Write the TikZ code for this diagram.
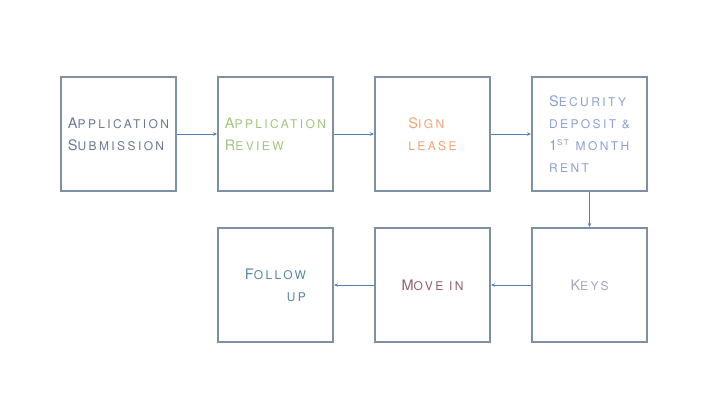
\documentclass[tikz,border=0pt]{standalone}
\usepackage{fontspec}
\setmainfont[LetterSpace=20]{TeX Gyre Heros}
\usetikzlibrary{positioning, arrows.meta}
\definecolor{frame}{RGB}{127,143,166}
\definecolor{flow}{RGB}{80,130,190}
\definecolor{subtxt}{RGB}{108,120,146}
\definecolor{revtxt}{RGB}{160,196,128}
\definecolor{signtxt}{RGB}{240,165,115}
\definecolor{sectxt}{RGB}{140,160,210}
\definecolor{keytxt}{RGB}{165,165,196}
\definecolor{movetxt}{RGB}{140,95,110}
\definecolor{fuptxt}{RGB}{84,136,156}
% small capitals, drawn as smaller upper case
\newcommand\lc[1]{{\fontsize{12}{22}\selectfont\MakeUppercase{#1}}}
\newcommand\supst{\raisebox{5pt}{\fontsize{8}{8}\selectfont ST}}
\tikzset{
  every node/.style={font=\fontsize{14.5}{22}\selectfont},
  stage/.style={draw=frame, line width=2pt, minimum width=115pt, minimum height=114pt, align=left, inner sep=0pt},
  link/.style={draw=flow, line width=0.7pt, -{Stealth[length=4pt, width=3.5pt]}},
}
\begin{document}
\begin{tikzpicture}[x=1pt, y=-1pt, node distance=40pt]
  \useasboundingbox (0,0) rectangle (720,405);
  % ---- top row ----------------------------------------------------------
  \node[stage, text=subtxt] (sub) at (118.5,134) {A\lc{pplication}\\S\lc{ubmission}};
  \node[stage, text=revtxt, right=of sub] (rev) {A\lc{pplication}\\R\lc{eview}};
  \node[stage, text=signtxt, right=of rev] (sign) {S\lc{ign}\\\lc{lease}};
  \node[stage, text=sectxt, right=of sign] (sec) {S\lc{ecurity}\\\lc{deposit \&}\\1\supst\ \lc{month}\\\lc{rent}};

  % ---- bottom row, right to left ----------------------------------------
  \node[stage, text=keytxt, below=35pt of sec] (keys) {K\lc{eys}};
  \node[stage, text=movetxt, left=of keys] (move) {M\lc{ove in}};
  \node[stage, text=fuptxt, left=of move, align=right] (fup) {F\lc{ollow}\\\lc{up}};

  % ---- connectors -------------------------------------------------------
  \draw[link] (sub) -- (rev);
  \draw[link] (rev) -- (sign);
  \draw[link] (sign) -- (sec);
  \draw[link] (sec) -- (keys);
  \draw[link] (keys) -- (move);
  \draw[link] (move) -- (fup);
\end{tikzpicture}
\end{document}
